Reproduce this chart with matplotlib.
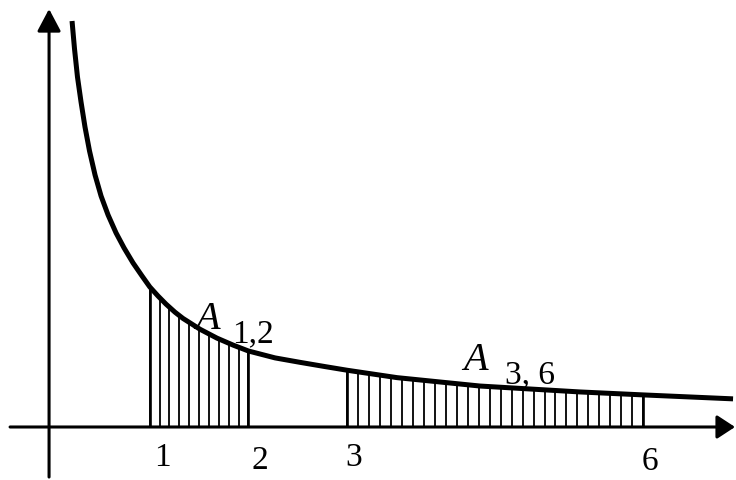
import numpy as np
import matplotlib
matplotlib.use("Agg")
import matplotlib.pyplot as plt

# Curve points (x, y in axis units)
curve_x = [0.213, 0.238, 0.268, 0.304, 0.344, 0.390, 0.446, 0.507, 0.578, 0.659,
           0.740, 0.831, 0.922, 1.0, 1.084, 1.165, 1.256, 1.337, 1.510, 1.682,
           1.844, 2.0, 2.270, 2.523, 2.776, 3.0, 3.506, 4.346, 5.36, 6.0, 6.91]
curve_y = [4.113, 3.830, 3.546, 3.293, 3.040, 2.796, 2.553, 2.340, 2.148, 1.966,
           1.814, 1.662, 1.530, 1.420, 1.327, 1.245, 1.163, 1.100, 0.990, 0.900,
           0.830, 0.770, 0.700, 0.655, 0.612, 0.575, 0.500, 0.415, 0.355, 0.325, 0.285]

# Shaded intervals
intervals = [(1, 2), (3, 6)]
n_lines = [11, 28]

# Tick labels
tick_labels = ["1", "2", "3", "6"]
tick_pos = [1.13, 2.12, 3.07, 6.07]
tick_ypos = [-0.30, -0.33, -0.30, -0.34]

fig = plt.figure(figsize=(7.36, 4.81), dpi=100)
ax = fig.add_axes([0, 0, 1, 1])
ax.set_xlim(-0.517, 6.94)
ax.set_ylim(-0.537, 4.336)
ax.axis("off")

# axes with arrows
ax.annotate("", xy=(6.93, 0), xytext=(-0.415, 0),
            arrowprops=dict(arrowstyle="-|>,head_length=0.55,head_width=0.36",
                            mutation_scale=20, lw=2.2, color="black",
                            shrinkA=0, shrinkB=0))
ax.annotate("", xy=(-0.02, 4.235), xytext=(-0.02, -0.507),
            arrowprops=dict(arrowstyle="-|>,head_length=0.68,head_width=0.36",
                            mutation_scale=20, lw=2.2, color="black",
                            shrinkA=0, shrinkB=0))

# hatching
for (a, b), n in zip(intervals, n_lines):
    xs = np.linspace(a, b, n)
    hs = np.interp(xs, curve_x, curve_y)
    ax.vlines(xs, 0, hs, colors="black", lw=1.3)
    ax.vlines([a, b], 0, np.interp([a, b], curve_x, curve_y), colors="black", lw=1.9)

# curve
ax.plot(curve_x, curve_y, color="black", lw=3.6, solid_capstyle="butt",
        solid_joinstyle="round")

serif = ["Liberation Serif", "DejaVu Serif"]
# area labels
ax.text(1.459, 1.003, "A", fontsize=29, style="italic", family=serif,
        ha="left", va="baseline")
ax.text(1.834, 0.871, "1,2", fontsize=24, family=serif, ha="left", va="baseline")
ax.text(4.174, 0.588, "A", fontsize=29, style="italic", family=serif,
        ha="left", va="baseline")
ax.text(4.60, 0.456, "3, 6", fontsize=24, family=serif, ha="left", va="baseline")

for lab, xp, yp in zip(tick_labels, tick_pos, tick_ypos):
    ax.text(xp, yp, lab, fontsize=24, family=serif, ha="center", va="center")

fig.savefig("out.png", dpi=100)
